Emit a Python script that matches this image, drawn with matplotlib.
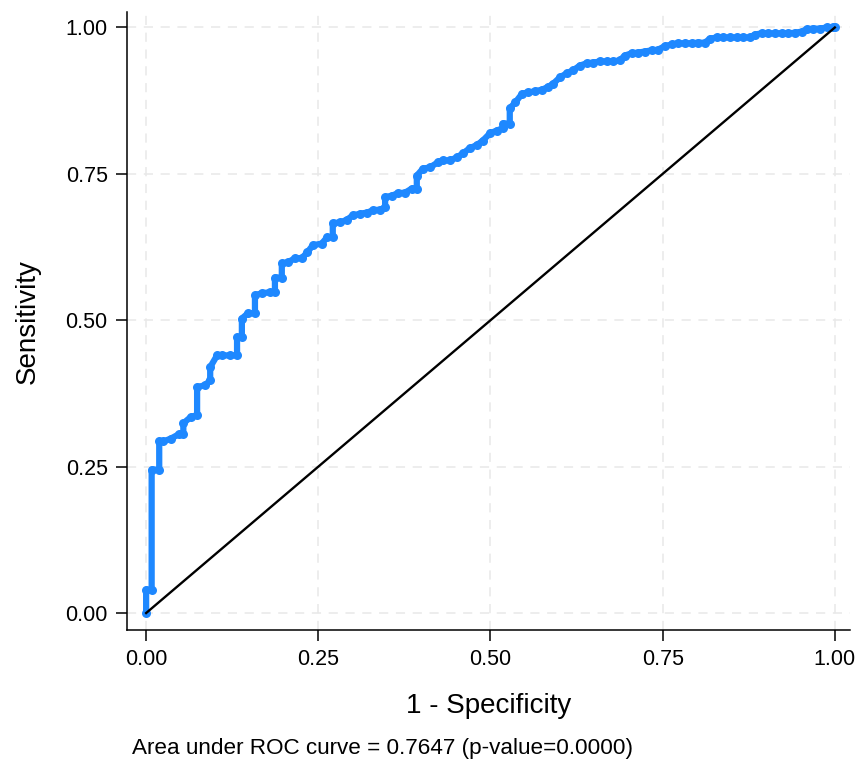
import matplotlib.pyplot as plt

# puntos de la curva ROC (1 - especificidad, sensibilidad)
fpr = [0.000, 0.000, 0.008, 0.008, 0.019, 0.019, 0.025, 0.036, 0.047, 0.054, 0.054,
       0.065, 0.074, 0.074, 0.086, 0.093, 0.093, 0.103, 0.110, 0.122, 0.132, 0.132,
       0.139, 0.139, 0.148, 0.158, 0.158, 0.168, 0.180, 0.187, 0.187, 0.197, 0.197,
       0.206, 0.216, 0.226, 0.234, 0.242, 0.255, 0.263, 0.271, 0.271, 0.282, 0.292,
       0.300, 0.311, 0.321, 0.330, 0.340, 0.347, 0.347, 0.357, 0.366, 0.376, 0.386,
       0.393, 0.393, 0.402, 0.412, 0.424, 0.431, 0.441, 0.451, 0.460, 0.470, 0.480,
       0.489, 0.499, 0.509, 0.518, 0.518, 0.528, 0.528, 0.536, 0.546, 0.554, 0.565,
       0.575, 0.583, 0.591, 0.601, 0.611, 0.620, 0.630, 0.640, 0.649, 0.659, 0.669,
       0.678, 0.688, 0.695, 0.705, 0.714, 0.724, 0.734, 0.743, 0.753, 0.763, 0.772,
       0.782, 0.792, 0.801, 0.811, 0.819, 0.829, 0.837, 0.848, 0.858, 0.867, 0.877,
       0.884, 0.894, 0.903, 0.913, 0.923, 0.932, 0.942, 0.952, 0.959, 0.968, 0.978,
       0.988, 0.997, 1.000]
tpr = [0.000, 0.040, 0.040, 0.245, 0.245, 0.293, 0.293, 0.298, 0.305, 0.305, 0.324,
       0.335, 0.338, 0.386, 0.389, 0.398, 0.420, 0.440, 0.440, 0.440, 0.440, 0.471,
       0.471, 0.503, 0.512, 0.512, 0.543, 0.546, 0.548, 0.548, 0.573, 0.573, 0.597,
       0.599, 0.606, 0.606, 0.616, 0.628, 0.631, 0.642, 0.642, 0.666, 0.667, 0.672,
       0.679, 0.682, 0.684, 0.688, 0.689, 0.693, 0.710, 0.713, 0.717, 0.718, 0.725,
       0.725, 0.747, 0.759, 0.761, 0.770, 0.773, 0.773, 0.778, 0.785, 0.794, 0.799,
       0.807, 0.819, 0.824, 0.828, 0.836, 0.836, 0.862, 0.872, 0.887, 0.889, 0.891,
       0.894, 0.898, 0.904, 0.915, 0.922, 0.927, 0.935, 0.939, 0.940, 0.942, 0.942,
       0.942, 0.944, 0.952, 0.956, 0.957, 0.959, 0.961, 0.962, 0.968, 0.971, 0.973,
       0.973, 0.973, 0.974, 0.974, 0.981, 0.983, 0.983, 0.983, 0.983, 0.983, 0.983,
       0.988, 0.990, 0.990, 0.990, 0.990, 0.990, 0.991, 0.993, 0.997, 0.998, 0.998,
       1.000, 1.000, 1.000]

ticks = [0, 0.25, 0.5, 0.75, 1]
tick_labels = ["0.00", "0.25", "0.50", "0.75", "1.00"]
nota = "Area under ROC curve = 0.7647 (p-value=0.0000)"

plt.rcParams['font.family'] = ['Liberation Sans', 'DejaVu Sans']

fig = plt.figure(figsize=(8.59, 7.67), dpi=100)
ax = fig.add_axes([0.148, 0.1786, 0.8415, 0.8054])

ax.plot(fpr, tpr, color='#1e88ff', linewidth=4.5, marker='o', markersize=6.5,
        markeredgewidth=0, solid_capstyle='round', solid_joinstyle='round', zorder=3)
ax.plot([0, 1], [0, 1], color='black', linewidth=1.7, zorder=4)

ax.set_xlim(-0.0276, 1.022)
ax.set_ylim(-0.029, 1.026)
ax.set_xticks(ticks)
ax.set_xticklabels(tick_labels)
ax.set_yticks(ticks)
ax.set_yticklabels(tick_labels)
ax.tick_params(labelsize=15.5, length=8, width=1.1, pad=6)
ax.grid(True, color='#e8e8e8', linestyle=(0, (6, 5)), linewidth=1.1)
ax.set_axisbelow(True)
for lado in ['top', 'right']:
    ax.spines[lado].set_visible(False)
for lado in ['left', 'bottom']:
    ax.spines[lado].set_linewidth(1.1)

ax.set_xlabel("1 - Specificity", fontsize=20, labelpad=16)
ax.set_ylabel("Sensitivity", fontsize=20, labelpad=18)
fig.text(132 / 859, 1 - 754 / 767, nota, fontsize=16.2, ha='left', va='baseline')

plt.savefig("out.png")
